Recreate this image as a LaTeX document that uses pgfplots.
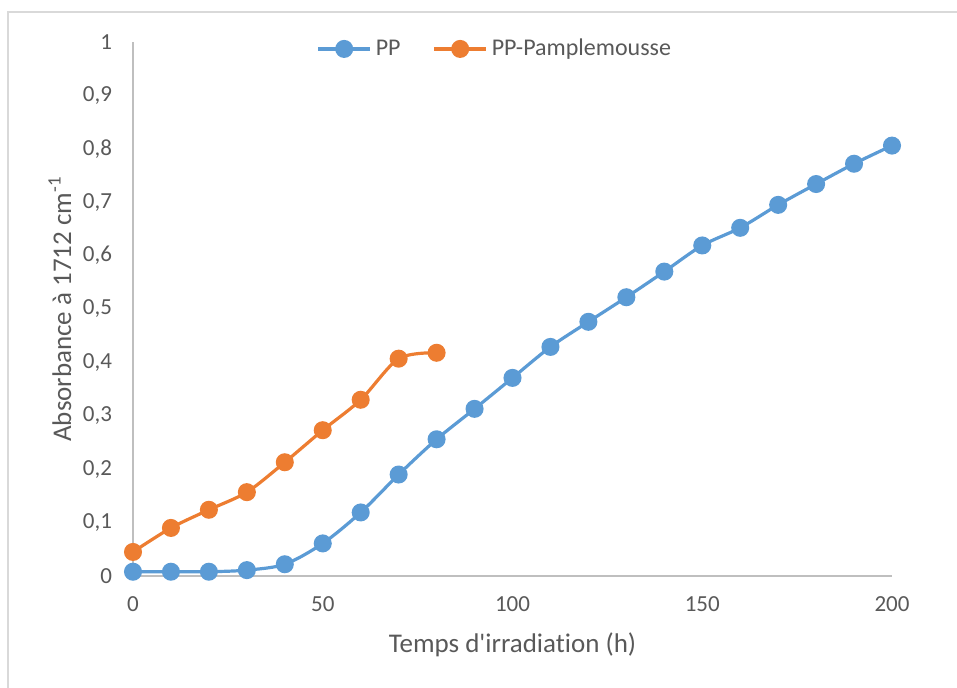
\documentclass[border=0pt]{standalone}
\usepackage{fontspec}
\setmainfont{Carlito}[Ligatures={TeX,NoCommon}]
\usepackage{pgfplots}
\pgfplotsset{compat=1.18}
\definecolor{ppblue}{HTML}{5B9BD5}
\definecolor{pporange}{HTML}{ED7D31}
\definecolor{txtgray}{HTML}{595959}
\definecolor{axgray}{HTML}{BFBFBF}
\definecolor{brdgray}{HTML}{D9D9D9}
\begin{document}
\begin{tikzpicture}
\path[use as bounding box] (-66.5pt,-56pt) rectangle (412pt,288pt);
\draw[brdgray, line width=0.8pt] (-62.5pt,-56pt) -- (-62.5pt,282pt) -- (412pt,282pt);
\begin{axis}[
  at={(0pt,0pt)}, anchor=south west,
  scale only axis, width=379.5pt, height=267pt,
  xmin=0, xmax=200, ymin=0, ymax=1,
  axis x line*=bottom, axis y line*=left,
  axis line style={axgray, line width=0.9pt, -},
  xtick={0,50,100,150,200},
  ytick={0,0.1,0.2,0.3,0.4,0.5,0.6,0.7,0.8,0.9,1},
  yticklabels={0,{0,1},{0,2},{0,3},{0,4},{0,5},{0,6},{0,7},{0,8},{0,9},1},
  major tick length=0pt,
  tick label style={font=\fontsize{11.5}{13}\selectfont, text=txtgray},
  xticklabel style={yshift=-7pt},
  yticklabel style={xshift=-7pt},
  /pgf/number format/assume math mode=true,
  xlabel={Temps d\textquotesingle irradiation (h)},
  ylabel={Absorbance à 1712 cm\textsuperscript{-1}},
  label style={font=\fontsize{13.5}{15}\selectfont, text=txtgray},
  xlabel style={at={(axis description cs:0.5,0)}, anchor=center, yshift=-34.5pt},
  ylabel style={at={(axis description cs:-0.0962,0.5)}, anchor=center, rotate=0},
  clip=false,
  legend columns=2,
  legend style={draw=none, fill=none, at={(rel axis cs:0.478,0.987)}, anchor=center,
    font=\fontsize{12}{14}\selectfont, text=txtgray,
    /tikz/every even column/.append style={column sep=14pt}},
  legend cell align=left,
  legend image code/.code={
    \draw[#1, mark repeat=2, mark phase=2] plot coordinates {(0pt,0pt) (13pt,0pt) (26pt,0pt)};
  },
]
\addplot[ppblue, line width=1.6pt, smooth, tension=0.5, mark=*, mark size=3.7pt, mark options={fill=ppblue, draw=ppblue}]
coordinates {
(0,0.008) (10,0.008) (20,0.008) (30,0.011) (40,0.022) (50,0.061) (60,0.119) (70,0.190)
(80,0.256) (90,0.313) (100,0.371) (110,0.429) (120,0.476) (130,0.522) (140,0.570)
(150,0.619) (160,0.652) (170,0.695) (180,0.734) (190,0.772) (200,0.806)
};
\addlegendentry{PP}
\addplot[pporange, line width=1.6pt, smooth, tension=0.5, mark=*, mark size=3.7pt, mark options={fill=pporange, draw=pporange}]
coordinates {
(0,0.045) (10,0.090) (20,0.124) (30,0.157) (40,0.213) (50,0.273) (60,0.330) (70,0.407) (80,0.418)
};
\addlegendentry{PP-Pamplemousse}
\end{axis}
\end{tikzpicture}
\end{document}
